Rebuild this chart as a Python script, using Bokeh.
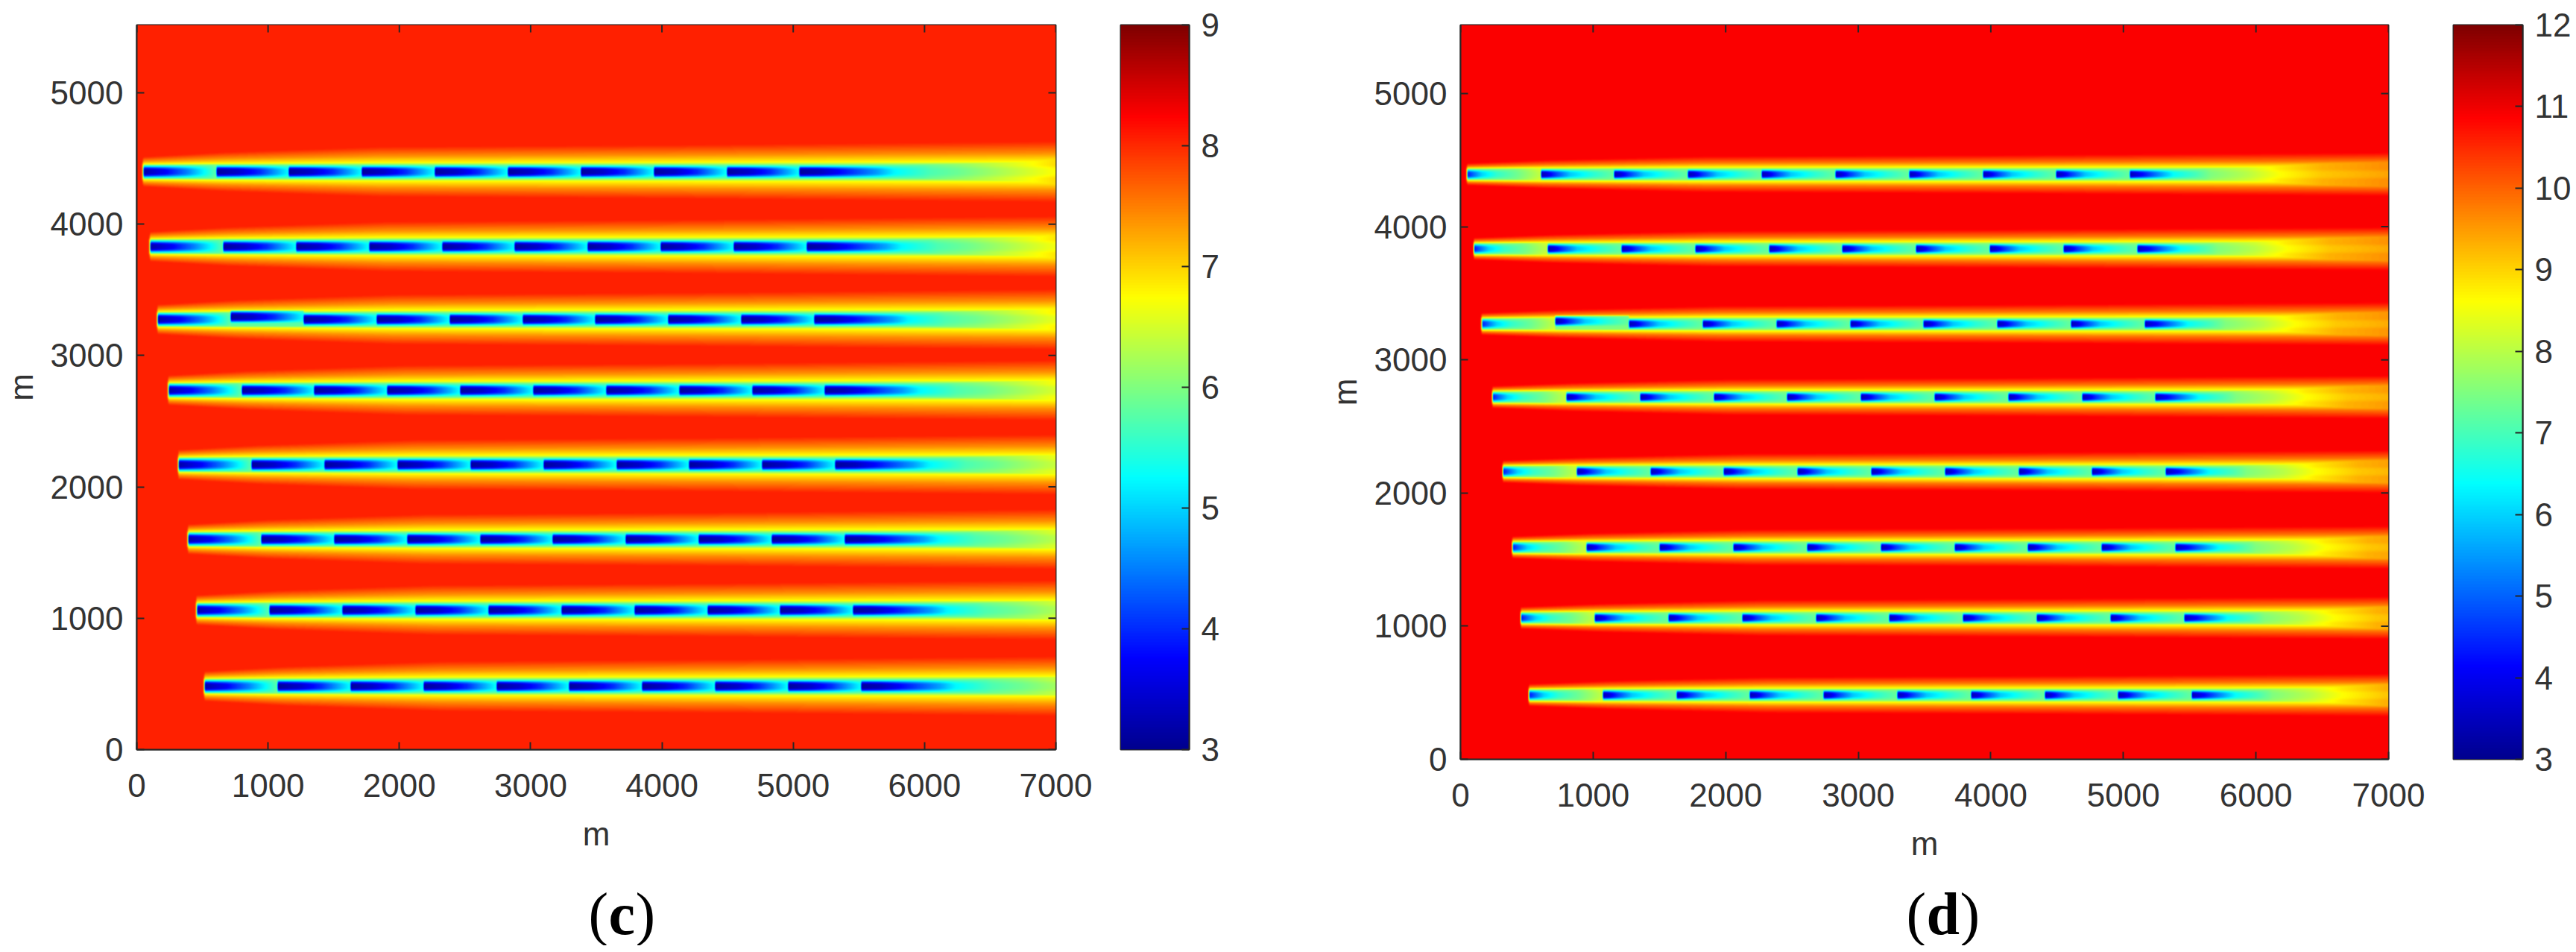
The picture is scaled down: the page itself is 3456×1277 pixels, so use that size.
#Script to plot the two colour field panels (c) and (d) with bokeh

##### IMPORT NECESSARY MODULES #####
import numpy as np

from bokeh.core.properties import value
from bokeh.embed import file_html
from bokeh.layouts import column, row
from bokeh.models import FixedTicker, LinearColorMapper, Range1d
from bokeh.plotting import figure
from bokeh.resources import INLINE

#### VALUES ####
x_ticks = [0, 1000, 2000, 3000, 4000, 5000, 6000, 7000]
y_ticks = [0, 1000, 2000, 3000, 4000, 5000]
cbar_ticks_c = [3, 4, 5, 6, 7, 8, 9]
cbar_ticks_d = [3, 4, 5, 6, 7, 8, 9, 10, 11, 12]
x_max = 7000
y_max_c = 5516
y_max_d = 5515

#row centre lines and where each row starts (m)
row_y_c = [4400, 3830, 3275, 2735, 2168, 1600, 1060, 480]
row_y_d = [4395, 3835, 3270, 2720, 2160, 1590, 1060, 480]
row_x0 = [47, 100, 158, 240, 318, 390, 455, 515]
seg_len = 556
seg_count = 10

#second segment of the third row sits a little higher
jog_row = 2
jog_seg = 1
jog_m = 20

#value along one segment (fraction of the segment, value)
seg_frac_c = [0, 0.3, 0.6, 0.85, 1]
seg_vals_c = [3.1, 3.4, 4.0, 4.8, 5.3]
first_vals_c = [3.2, 3.7, 4.5, 5.3, 5.8]
seg_frac_d = [0, 0.08, 0.2, 0.4, 0.7, 1]
seg_vals_d = [3.4, 3.7, 4.6, 5.9, 6.7, 7.3]
first_vals_d = [4.3, 5.0, 6.0, 6.8, 7.4, 8.1]

#value behind the start of the last segment (distance, value)
tail_dist_c = [0, 150, 350, 600, 715, 1000, 1225, 1660, 1950, 2400]
tail_vals_c = [3.1, 3.3, 3.9, 4.7, 5.2, 5.7, 5.9, 6.4, 6.75, 6.9]
tail_dist_d = [0, 100, 200, 330, 500, 610, 890, 1130, 1450, 1920, 2400]
tail_vals_d = [3.4, 4.2, 5.2, 6.4, 7.0, 7.5, 8.0, 8.6, 9.1, 9.4, 9.6]

#inside the slot: share of the way from centre value to edge value
inner_dist_c = [0, 15, 30, 40, 50]
inner_dist_d = [0, 12, 24, 32, 40]
inner_frac = [0, 0, 0.3, 0.7, 1]
edge_c = 5.8
edge_d = 7.5
edge_rise_c = 0.2
edge_rise_d = 0.2

#outside the slot: distance past the slot edge, value
outer_dist_c = [0, 20, 70, 140]
outer_vals_c = [5.8, 6.75, 7.4, 8.05]
outer_dist_d = [0, 12, 45, 95]
outer_vals_d = [7.5, 8.6, 9.8, 10.88]
base_c = 8.05
base_d = 10.88

#how far the outer band has opened along the row
spread_x = [0, 600, 1800, 4000, 7000]
spread_f = [0.45, 0.7, 1.0, 1.1, 1.3]

#### PAGE LAYOUT IN PIXELS ####
text_color = "#333333"
line_color = "#262626"
tick_font = "Liberation Sans"
top_h = 1172
cap_h = 96
page_w = 3440

#captions as (left edge px, text, style)
cap_x = [797, 824, 860, 2565, 2592, 2637]
cap_text = ["(", "c", ")", "(", "d", ")"]
cap_style = ["normal", "bold", "normal", "normal", "bold", "normal"]
cap_mid = 53

#### JET COLOURS ####
stops = [0, 0.125, 0.375, 0.625, 0.875, 1]
reds = [0, 0, 0, 255, 255, 128]
greens = [0, 0, 255, 255, 0, 0]
blues = [143, 255, 255, 0, 0, 0]
t = np.linspace(0, 1, 256)
jet = ["#%02x%02x%02x" % (int(r), int(g), int(b)) for r, g, b in
       zip(np.interp(t, stops, reds), np.interp(t, stops, greens), np.interp(t, stops, blues))]


#soften the cells a little, the source picture is blurred
def soften(z):
    out = np.pad(z, 1, mode="edge")
    out = (out[:-2, 1:-1] + 2 * out[1:-1, 1:-1] + out[2:, 1:-1]) / 4
    out = np.pad(out, 1, mode="edge")
    out = (out[1:-1, :-2] + 2 * out[1:-1, 1:-1] + out[1:-1, 2:]) / 4
    return out


#build the picture cells of one panel from the read values
def build_field(w, h, y_max, rows, seg_frac, seg_vals, first_vals, tail_dist, tail_vals,
                inner_dist, edge, edge_rise, outer_dist, outer_vals, base):
    xs = np.linspace(0, x_max, w)
    ys = np.linspace(0, y_max, h)
    Y = ys[:, None]
    slot = inner_dist[-1]
    field = np.full((h, w), float(base))
    for i in range(len(rows)):
        x0 = row_x0[i]
        centre = np.full(w, float(edge))
        shift = np.zeros(w)
        for k in range(seg_count):
            s = x0 + k * seg_len
            if k == seg_count - 1:
                mask = xs >= s
                centre[mask] = np.interp(xs[mask] - s, tail_dist, tail_vals)
            else:
                mask = (xs >= s) & (xs < s + seg_len)
                vals = first_vals if k == 0 else seg_vals
                centre[mask] = np.interp((xs[mask] - s) / seg_len, seg_frac, vals)
            if i == jog_row and k == jog_seg:
                shift[mask] = jog_m
        # outer band follows the row line, the slot itself follows the jog
        d_out = np.abs(Y - rows[i])
        d_in = np.abs(Y - (rows[i] + shift)[None, :])
        # nothing left of the row start except a thin edge
        before = np.clip(x0 - xs, 0, None)[None, :]
        d_out = np.where(before > 0, np.maximum(d_out, slot) + before * 5, d_out)
        d_in = np.where(before > 0, slot + 1, d_in)
        spread = np.interp(np.clip(xs - x0, 0, None), spread_x, spread_f)[None, :]
        c2 = centre[None, :]
        edge_now = np.maximum(c2 + edge_rise, edge)
        inner = c2 + (edge_now - c2) * np.interp(d_in, inner_dist, inner_frac)
        outer = np.maximum(np.interp(np.clip(d_out - slot, 0, None) / spread, outer_dist, outer_vals),
                           np.where(before > 0, edge, edge_now))
        this_row = np.where(d_in < slot, inner, np.minimum(outer, base))
        field = np.minimum(field, this_row)
    return soften(field)


#main panel with inward ticks on all four sides
def make_panel(frame_w, frame_h, y_max, field, low, high, left, top, right, bottom):
    mapper = LinearColorMapper(palette=jet, low=low, high=high)
    p = figure(x_range=Range1d(0, x_max), y_range=Range1d(0, y_max), frame_width=frame_w, frame_height=frame_h,
               output_backend="svg", toolbar_location=None, min_border_left=left, min_border_top=top,
               min_border_right=right, min_border_bottom=bottom, background_fill_color="white")
    p.image(image=[field], x=0, y=0, dw=x_max, dh=y_max, color_mapper=mapper)
    p.grid.visible = False
    p.outline_line_color = line_color
    p.outline_line_width = 2
    for ax, ticks in ((p.xaxis, x_ticks), (p.yaxis, y_ticks)):
        ax.ticker = FixedTicker(ticks=ticks)
        ax.major_tick_in = 10
        ax.major_tick_out = 0
        ax.minor_tick_line_color = None
        ax.major_tick_line_color = line_color
        ax.major_tick_line_width = 2
        ax.axis_line_color = line_color
        ax.axis_line_width = 2
        ax.major_label_text_font = tick_font
        ax.major_label_text_font_size = "44px"
        ax.major_label_text_color = text_color
        ax.axis_label = "m"
        ax.axis_label_text_font = tick_font
        ax.axis_label_text_font_size = "44px"
        ax.axis_label_text_font_style = "normal"
        ax.axis_label_text_color = text_color
    p.xaxis.major_label_standoff = 32
    p.yaxis.major_label_standoff = 18
    p.xaxis.axis_label_standoff = 22
    p.yaxis.axis_label_standoff = 12
    # ticks on the top and right edge
    tick_x = 10 * x_max / frame_w
    tick_y = 10 * y_max / frame_h
    p.segment(x0=x_ticks, y0=[y_max] * len(x_ticks), x1=x_ticks, y1=[y_max - tick_y] * len(x_ticks),
              line_color=line_color, line_width=2)
    p.segment(x0=[x_max] * len(y_ticks), y0=y_ticks, x1=[x_max - tick_x] * len(y_ticks), y1=y_ticks,
              line_color=line_color, line_width=2)
    return p


#colour bar as a small figure of its own
def make_cbar(frame_w, frame_h, low, high, ticks, left, top, right, bottom):
    mapper = LinearColorMapper(palette=jet, low=low, high=high)
    p = figure(x_range=Range1d(0, 1), y_range=Range1d(low, high), frame_width=frame_w, frame_height=frame_h,
               output_backend="svg", toolbar_location=None, min_border_left=left, min_border_top=top,
               min_border_right=right, min_border_bottom=bottom, x_axis_location=None, y_axis_location="right")
    gradient = np.linspace(low, high, 256)[:, None]
    p.image(image=[gradient], x=0, y=low, dw=1, dh=high - low, color_mapper=mapper)
    p.grid.visible = False
    p.outline_line_color = line_color
    p.outline_line_width = 2
    ax = p.yaxis
    ax.ticker = FixedTicker(ticks=ticks)
    ax.major_tick_in = 10
    ax.major_tick_out = 0
    ax.minor_tick_line_color = None
    ax.major_tick_line_color = line_color
    ax.major_tick_line_width = 2
    ax.axis_line_color = line_color
    ax.axis_line_width = 2
    ax.major_label_standoff = 16
    ax.major_label_text_font = tick_font
    ax.major_label_text_font_size = "44px"
    ax.major_label_text_color = text_color
    return p


#### BUILD THE PANELS ####
w_c, h_c = 1233, 972
w_d, h_d = 1245, 985
top_c = 33
top_d = 28

field_c = build_field(w_c, h_c, y_max_c, row_y_c, seg_frac_c, seg_vals_c, first_vals_c, tail_dist_c, tail_vals_c,
                      inner_dist_c, edge_c, edge_rise_c, outer_dist_c, outer_vals_c, base_c)
field_d = build_field(w_d, h_d, y_max_d, row_y_d, seg_frac_d, seg_vals_d, first_vals_d, tail_dist_d, tail_vals_d,
                      inner_dist_d, edge_d, edge_rise_d, outer_dist_d, outer_vals_d, base_d)

plot_c = make_panel(w_c, h_c, y_max_c, field_c, 3, 9, 176, top_c, 60, top_h - top_c - h_c)
bar_c = make_cbar(92, h_c, 3, 9, cbar_ticks_c, 27, top_c, 64, top_h - top_c - h_c)
plot_d = make_panel(w_d, h_d, y_max_d, field_d, 3, 12, 300, top_d, 60, top_h - top_d - h_d)
bar_d = make_cbar(93, h_d, 3, 12, cbar_ticks_d, 27, top_d, 60, top_h - top_d - h_d)

#### CAPTIONS IN THEIR OWN STRIP ####
strip = figure(x_range=Range1d(8, 8 + page_w), y_range=Range1d(cap_h, 0), width=page_w, height=cap_h,
               output_backend="svg", toolbar_location=None, x_axis_location=None, y_axis_location=None,
               min_border=0, outline_line_color=None)
strip.grid.visible = False
for i in range(len(cap_text)):
    strip.text(x=[cap_x[i]], y=[cap_mid], text=[cap_text[i]], text_font=value("Liberation Serif"),
               text_font_size="80px", text_font_style=cap_style[i], text_color="black",
               text_baseline="middle", text_align="left")

page = column(row(plot_c, bar_c, plot_d, bar_d, spacing=0), strip, spacing=0)

open("out.html", "w").write(file_html(page, INLINE))
